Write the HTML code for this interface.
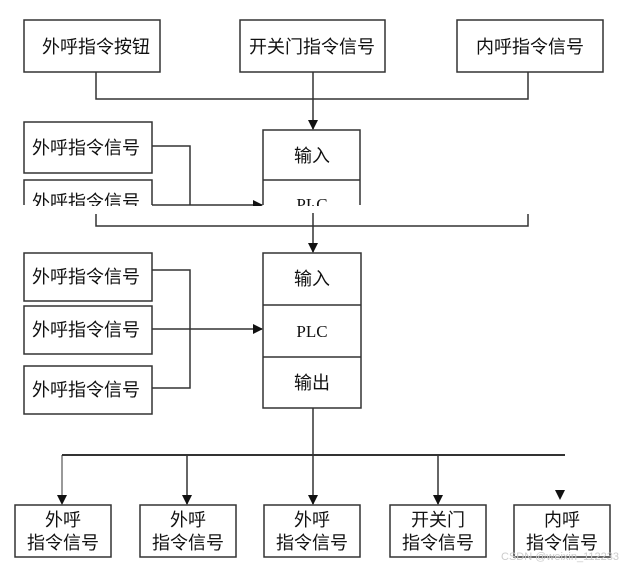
<!DOCTYPE html>
<html><head><meta charset="utf-8"><style>
html,body{margin:0;padding:0;background:#fff;}
svg{display:block;}
text{font-family:"Liberation Sans","Noto Sans CJK SC",sans-serif;font-size:18px;fill:#111;}
.s{font-family:"Liberation Serif","Noto Serif CJK SC",serif;font-size:17px;}
</style></head><body>
<svg width="630" height="566" viewBox="0 0 630 566" xmlns="http://www.w3.org/2000/svg">
<defs><marker id="a" markerWidth="10" markerHeight="10" refX="9" refY="5" orient="auto" markerUnits="userSpaceOnUse"><path d="M0,0 L10,5 L0,10 z" fill="#111"/></marker></defs>
<g fill="none" stroke="#333" stroke-width="1.5">
<rect x="24" y="20" width="136" height="52"/>
<rect x="240" y="20" width="145" height="52"/>
<rect x="457" y="20" width="146" height="52"/>
<polyline points="96,72 96,99 528,99 528,72"/>
<line x1="313" y1="72" x2="313" y2="129" marker-end="url(#a)"/>
<rect x="24" y="122" width="128" height="51"/>
<polyline points="24,205 24,180 152,180 152,205"/>
<polyline points="152,146 190,146 190,205"/>
<line x1="152" y1="205" x2="262" y2="205" marker-end="url(#a)"/>
<polyline points="263,205 263,130 360,130 360,205"/>
<line x1="263" y1="180" x2="360" y2="180"/>
<polyline points="96,214 96,226 528,226 528,214"/>
<line x1="313" y1="205" x2="313" y2="252" marker-end="url(#a)"/>
<rect x="24" y="253" width="128" height="48"/>
<rect x="24" y="306" width="128" height="48"/>
<rect x="24" y="366" width="128" height="48"/>
<polyline points="152,270 190,270 190,388 152,388"/>
<line x1="152" y1="329" x2="262" y2="329" marker-end="url(#a)"/>
<rect x="263" y="253" width="98" height="155"/>
<line x1="263" y1="305" x2="361" y2="305"/>
<line x1="263" y1="357" x2="361" y2="357"/>
<line x1="313" y1="408" x2="313" y2="504" marker-end="url(#a)"/>
<line x1="62" y1="455" x2="565" y2="455" stroke-width="2"/>
<line x1="62" y1="455" x2="62" y2="504" stroke-width="1" marker-end="url(#a)"/>
<line x1="187" y1="455" x2="187" y2="504" marker-end="url(#a)"/>
<line x1="438" y1="455" x2="438" y2="504" marker-end="url(#a)"/>
<path d="M555,490 L565,490 L560,500 z" fill="#111" stroke="none"/>
<rect x="15" y="505" width="96" height="52"/>
<rect x="140" y="505" width="96" height="52"/>
<rect x="264" y="505" width="96" height="52"/>
<rect x="390" y="505" width="96" height="52"/>
<rect x="514" y="505" width="96" height="52"/>
</g>
<g text-anchor="middle">
<text x="96" y="53">外呼指令按钮</text>
<text x="312" y="53">开关门指令信号</text>
<text x="530" y="53">内呼指令信号</text>
<text x="86" y="154">外呼指令信号</text>
<text x="86" y="208">外呼指令信号</text>
<text x="312" y="162">输入</text>
<text x="312" y="210" class="s">PLC</text>
<text x="86" y="283">外呼指令信号</text>
<text x="86" y="336">外呼指令信号</text>
<text x="86" y="396">外呼指令信号</text>
<text x="312" y="285">输入</text>
<text x="312" y="337" class="s">PLC</text>
<text x="312" y="389">输出</text>
<text x="63" y="526">外呼</text><text x="63" y="549">指令信号</text>
<text x="188" y="526">外呼</text><text x="188" y="549">指令信号</text>
<text x="312" y="526">外呼</text><text x="312" y="549">指令信号</text>
<text x="438" y="526">开关门</text><text x="438" y="549">指令信号</text>
<text x="562" y="526">内呼</text><text x="562" y="549">指令信号</text>
</g>
<rect x="0" y="206" width="630" height="7" fill="#fff"/>
<text x="560" y="560" style="font-size:11px;fill:#ccc" text-anchor="middle">CSDN @weixin_112233</text>
</svg>
</body></html>
